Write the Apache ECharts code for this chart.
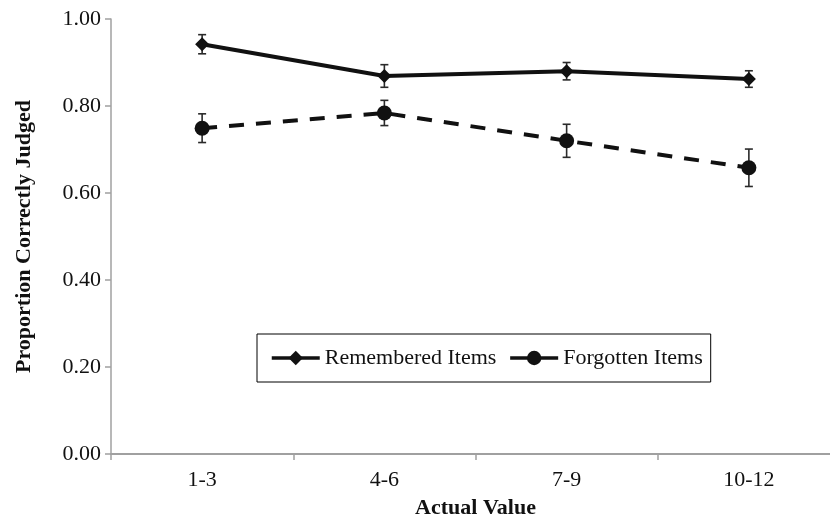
<!DOCTYPE html>
<html>
<head>
<meta charset="utf-8">
<script src="https://cdn.jsdelivr.net/npm/echarts@6/dist/echarts.min.js"></script>
<style>
  html, body { margin: 0; padding: 0; background: #fff; }
  #chart { width: 830px; height: 522px; }
</style>
</head>
<body>
<div id="chart"></div>
<script>
// Value ranges on the x axis
const categories = ['1-3', '4-6', '7-9', '10-12'];

// Mean proportion correctly judged, with standard errors
const rememberedMean = [0.942, 0.869, 0.880, 0.862];
const rememberedErr  = [0.022, 0.026, 0.020, 0.019];
const forgottenMean  = [0.749, 0.784, 0.720, 0.658];
const forgottenErr   = [0.033, 0.029, 0.038, 0.043];

const FONT = '"Liberation Serif", "Times New Roman", serif';
const INK = '#111';
const AXIS_GREY = '#a0a0a0';

// [category index, lower, upper] for each error bar
function errorData(mean, err) {
  return mean.map((m, i) => [i, m - err[i], m + err[i]]);
}

function renderErrorBar(params, api) {
  const i = api.value(0);
  const lo = api.coord([i, api.value(1)]);
  const hi = api.coord([i, api.value(2)]);
  const cap = 4;
  const style = { stroke: '#2a2a2a', lineWidth: 1.6, fill: null };
  return {
    type: 'group',
    children: [
      { type: 'line', shape: { x1: lo[0], y1: lo[1], x2: hi[0], y2: hi[1] }, style },
      { type: 'line', shape: { x1: lo[0] - cap, y1: lo[1], x2: lo[0] + cap, y2: lo[1] }, style },
      { type: 'line', shape: { x1: hi[0] - cap, y1: hi[1], x2: hi[0] + cap, y2: hi[1] }, style }
    ]
  };
}

const chart = echarts.init(document.getElementById('chart'), null, { renderer: 'canvas' });

chart.setOption({
  animation: false,
  backgroundColor: '#fff',
  textStyle: { fontFamily: FONT, color: INK },
  // the plot runs slightly past the right edge of the canvas
  grid: { left: 111, top: 19, width: 729, height: 435, containLabel: false, outerBoundsMode: 'none' },
  legend: {
    left: 257,
    top: 334,
    orient: 'horizontal',
    padding: [13, 8, 13, 13],
    itemGap: 12,
    itemWidth: 48,
    itemHeight: 18,
    borderColor: '#000',
    borderWidth: 1,
    textStyle: { fontFamily: FONT, fontSize: 22, color: INK },
    lineStyle: { width: 3.5 },
    data: [
      { name: 'Remembered Items' },
      { name: 'Forgotten Items', lineStyle: { type: 'solid', width: 3.5 } }
    ]
  },
  xAxis: {
    type: 'category',
    data: categories,
    boundaryGap: true,
    name: 'Actual Value',
    nameLocation: 'middle',
    nameGap: 43,
    nameTextStyle: { fontFamily: FONT, fontSize: 22, fontWeight: 'bold', color: INK },
    axisLine: { lineStyle: { color: AXIS_GREY, width: 2 } },
    axisTick: { show: true, length: 6, inside: false, lineStyle: { color: AXIS_GREY, width: 1.5 } },
    axisLabel: { fontFamily: FONT, fontSize: 22, color: INK, margin: 15 },
    splitLine: { show: false }
  },
  yAxis: {
    type: 'value',
    min: 0,
    max: 1,
    interval: 0.2,
    name: 'Proportion Correctly Judged',
    nameLocation: 'middle',
    nameGap: 76,
    nameTextStyle: { fontFamily: FONT, fontSize: 22, fontWeight: 'bold', color: INK },
    axisLine: { show: true, lineStyle: { color: AXIS_GREY, width: 1.5 } },
    axisTick: { show: true, length: 6, inside: false, lineStyle: { color: AXIS_GREY, width: 1.5 } },
    axisLabel: {
      fontFamily: FONT, fontSize: 22, color: INK, margin: 10,
      formatter: v => v.toFixed(2)
    },
    splitLine: { show: false }
  },
  series: [
    {
      name: 'Remembered error',
      type: 'custom',
      renderItem: renderErrorBar,
      data: errorData(rememberedMean, rememberedErr),
      z: 1,
      silent: true
    },
    {
      name: 'Forgotten error',
      type: 'custom',
      renderItem: renderErrorBar,
      data: errorData(forgottenMean, forgottenErr),
      z: 1,
      silent: true
    },
    {
      name: 'Remembered Items',
      type: 'line',
      data: rememberedMean,
      symbol: 'diamond',
      symbolSize: 14,
      color: INK,
      itemStyle: { color: INK },
      lineStyle: { color: INK, width: 4, type: 'solid' },
      z: 3
    },
    {
      name: 'Forgotten Items',
      type: 'line',
      data: forgottenMean,
      symbol: 'circle',
      symbolSize: 15,
      color: INK,
      itemStyle: { color: INK },
      lineStyle: { color: INK, width: 4, type: [15, 12] },
      z: 3
    }
  ]
});
</script>
</body>
</html>
